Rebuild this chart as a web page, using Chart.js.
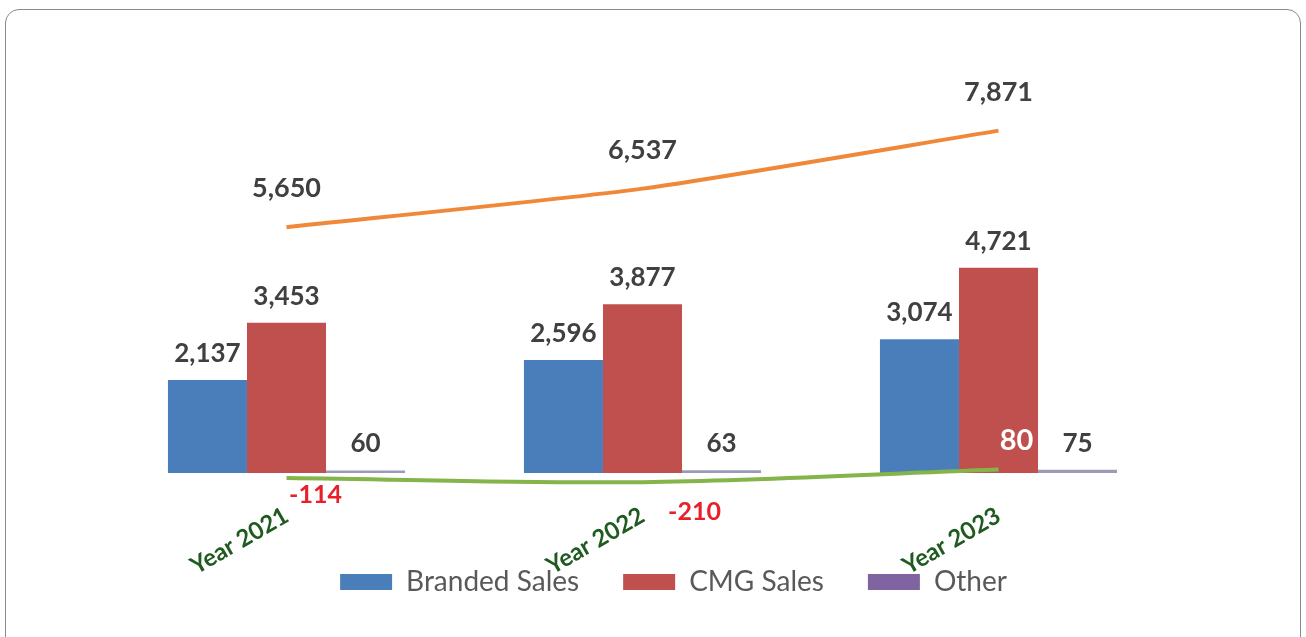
<!DOCTYPE html>
<html>
<head>
<meta charset="utf-8">
<script src="https://cdn.jsdelivr.net/npm/chart.js@4.4.1/dist/chart.umd.min.js"></script>
<style>
  html, body { margin: 0; padding: 0; background: #ffffff; overflow: hidden; }
  #frame { position: absolute; left: 5px; top: 9px; width: 1296px; height: 720px;
           border: 1.5px solid #8a8a8a; border-radius: 14px; box-sizing: border-box; }
  #wrap { position: absolute; left: 0; top: 0; width: 1306px; height: 637px; }
</style>
</head>
<body>
<div id="frame"></div>
<div id="wrap"><canvas id="c" width="1306" height="637"></canvas></div>
<script>
// ---- data ----
const categories   = ["Year 2021", "Year 2022", "Year 2023"];
const brandedSales = [2137, 2596, 3074];
const cmgSales     = [3453, 3877, 4721];
const otherSales   = [60, 63, 75];
const totalSales   = [5650, 6537, 7871];
const netIncome    = [-114, -210, 80];

// ---- label styling (not data) ----
const FONT = "Lato, 'Open Sans', sans-serif";
const labelStyles = {
  bars:  { color: '#404040', size: 26, dy: -18 },
  total: { color: '#404040', size: 27, dy: -30 },
  net: [
    { color: '#e8202a', size: 25, dx: 29, dy: 25 },
    { color: '#e8202a', size: 25, dx: 52, dy: 38 },
    { color: '#ffffff', size: 29, dx: 18, dy: -20 }
  ]
};
const fmt = v => v.toLocaleString('en-US');

const valueLabels = {
  id: 'valueLabels',
  afterDatasetsDraw(chart) {
    const ctx = chart.ctx;
    ctx.save();
    ctx.textAlign = 'center';
    ctx.textBaseline = 'alphabetic';
    chart.data.datasets.forEach((ds, di) => {
      const meta = chart.getDatasetMeta(di);
      meta.data.forEach((el, i) => {
        const v = ds.data[i];
        let st;
        if (ds.key === 'net') st = labelStyles.net[i];
        else if (ds.key === 'total') st = labelStyles.total;
        else st = labelStyles.bars;
        ctx.font = 'bold ' + st.size + 'px ' + FONT;
        ctx.fillStyle = st.color;
        ctx.fillText(fmt(v), el.x + (st.dx || 0), el.y + st.dy);
      });
    });
    ctx.restore();
  }
};

new Chart(document.getElementById('c'), {
  data: {
    labels: categories,
    datasets: [
      { type: 'line', key: 'total', label: 'Total Sales', data: totalSales,
        borderColor: '#f0883a', borderWidth: 4, pointRadius: 0, tension: 0.2, order: 0 },
      { type: 'line', key: 'net', label: 'Net Income', data: netIncome,
        borderColor: '#84b44a', borderWidth: 4, pointRadius: 0, tension: 0.35, order: 0 },
      { type: 'bar', key: 'bar', label: 'Branded Sales', data: brandedSales,
        backgroundColor: '#4a7ebb', order: 1 },
      { type: 'bar', key: 'bar', label: 'CMG Sales', data: cmgSales,
        backgroundColor: '#c0504d', order: 1 },
      { type: 'bar', key: 'bar', label: 'Other', data: otherSales,
        backgroundColor: '#9b9bb8', order: 1 }
    ]
  },
  options: {
    responsive: false,
    animation: false,
    datasets: { bar: { barPercentage: 1.0, categoryPercentage: 0.666 } },
    layout: { padding: { top: 81.5, left: 108.5, right: 67.5, bottom: 31 } },
    plugins: {
      tooltip: { enabled: false },
      legend: {
        position: 'bottom',
        labels: {
          filter: item => item.text !== 'Total Sales' && item.text !== 'Net Income',
          boxWidth: 52, boxHeight: 16, padding: 44,
          color: '#595959',
          font: { family: FONT, size: 28 },
          generateLabels(chart) {
            const items = Chart.defaults.plugins.legend.labels.generateLabels(chart);
            items.forEach(it => {
              if (it.text === 'Other') { it.fillStyle = '#8064a2'; }
              it.lineWidth = 0; it.strokeStyle = 'transparent';
            });
            return items;
          }
        }
      }
    },
    scales: {
      x: {
        grid: { display: false },
        border: { display: false },
        ticks: {
          minRotation: 30, maxRotation: 30,
          color: '#1f5a1f',
          font: { family: FONT, size: 24, weight: 'bold' }
        },
        afterFit(scale) {
          scale.height = 33.6;
          scale._computeLabelArea = () => undefined;
        }
      },
      y: {
        position: 'right',
        min: -400, max: 9000,
        border: { display: false },
        grid: {
          drawTicks: false,
          lineWidth: 2,
          color: c => (c.tick && c.tick.value === 0) ? '#d9d9d9' : 'rgba(0,0,0,0)'
        },
        ticks: { display: false, stepSize: 1000 },
        afterFit(scale) { scale.width = 62; }
      }
    }
  },
  plugins: [valueLabels]
});
</script>
</body>
</html>
